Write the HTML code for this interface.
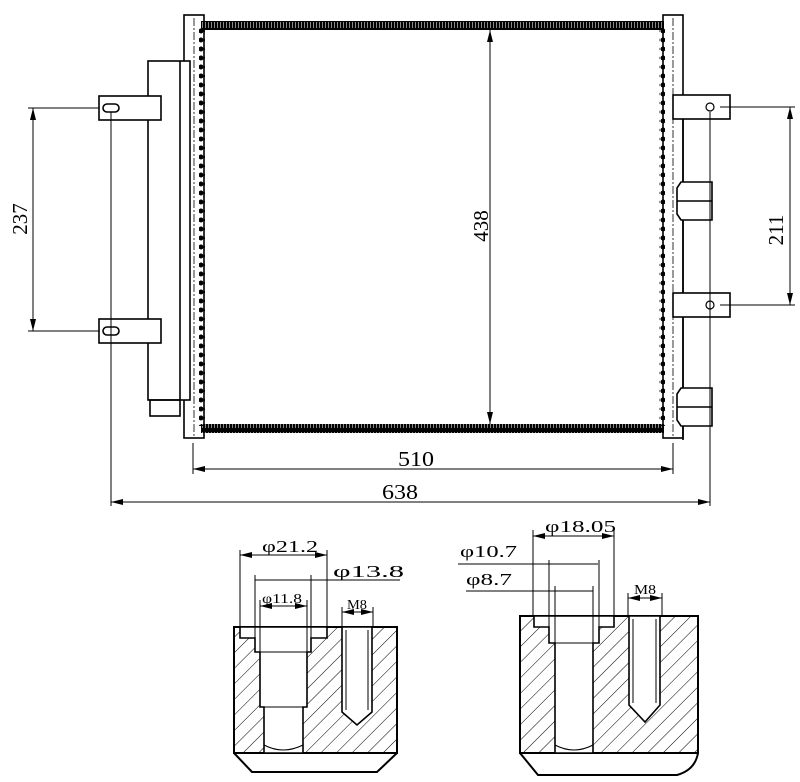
<!DOCTYPE html>
<html><head><style>body{margin:0;background:#fff}svg{display:block}text{font-family:"Liberation Serif",serif;fill:#000}</style></head><body>
<svg width="800" height="782" viewBox="0 0 800 782" xmlns="http://www.w3.org/2000/svg">
<defs>
<marker id="a" viewBox="0 0 12 6" refX="12" refY="3" markerWidth="12" markerHeight="6" orient="auto-start-reverse" markerUnits="userSpaceOnUse"><path d="M0,0L12,3L0,6z" fill="#000"/></marker>
<pattern id="h" width="11" height="11" patternUnits="userSpaceOnUse" patternTransform="rotate(45)"><line x1="0" y1="0" x2="0" y2="11" stroke="#000" stroke-width="1"/></pattern>
<pattern id="fin" width="3" height="10" patternUnits="userSpaceOnUse"><rect width="3" height="10" fill="#000"/><rect x="1" y="2" width="1" height="6" fill="#888"/></pattern>
<pattern id="dots" width="6" height="9" patternUnits="userSpaceOnUse"><circle cx="3" cy="4" r="2.5" fill="#000"/></pattern>
</defs>
<g fill="none" stroke="#000" stroke-width="1.6">
<rect x="201" y="21" width="463" height="9" fill="url(#fin)" stroke="none"/>
<rect x="201" y="424" width="463" height="9" fill="url(#fin)" stroke="none"/>
<rect x="199" y="26" width="6" height="400" fill="url(#dots)" stroke="none"/>
<rect x="659" y="26" width="6" height="400" fill="url(#dots)" stroke="none"/>
<rect x="184" y="15" width="20" height="423"/>
<line x1="194" y1="18" x2="194" y2="436" stroke-width="0.8" stroke-dasharray="8,2,2,2"/>
<rect x="663" y="15" width="20" height="423"/>
<line x1="673" y1="18" x2="673" y2="436" stroke-width="0.8" stroke-dasharray="8,2,2,2"/>
<rect x="148" y="61" width="42" height="339" fill="#fff"/>
<line x1="180" y1="61" x2="180" y2="400"/>
<rect x="150" y="400" width="30" height="16"/>
<rect x="99" y="96" width="62" height="24" fill="#fff"/>
<rect x="99" y="319" width="62" height="24" fill="#fff"/>
<rect x="103" y="104" width="16" height="8" rx="4"/>
<rect x="103" y="327" width="16" height="8" rx="4"/>
<line x1="683" y1="95" x2="683" y2="440"/>
<rect x="673" y="95" width="57" height="24" fill="#fff"/>
<rect x="673" y="293" width="57" height="24" fill="#fff"/>
<circle cx="710" cy="107" r="4" stroke-width="1.2"/><circle cx="710" cy="305" r="4" stroke-width="1.2"/>
<path d="M681,182H712V220H681L677,214V188Z" fill="#fff"/><line x1="677" y1="201" x2="712" y2="201"/>
<path d="M681,388H712V426H681L677,420V394Z" fill="#fff"/><line x1="677" y1="407" x2="712" y2="407"/>
</g>
<g stroke="#000" stroke-width="1" fill="none">
<line x1="28" y1="108" x2="99" y2="108"/><line x1="28" y1="331" x2="99" y2="331"/>
<line x1="33" y1="108" x2="33" y2="331" marker-start="url(#a)" marker-end="url(#a)"/>
<line x1="720" y1="107" x2="795" y2="107"/><line x1="720" y1="305" x2="795" y2="305"/>
<line x1="790" y1="107" x2="790" y2="305" marker-start="url(#a)" marker-end="url(#a)"/>
<line x1="111" y1="112" x2="111" y2="506"/><line x1="710" y1="112" x2="710" y2="506"/>
<line x1="193" y1="443" x2="193" y2="474"/><line x1="673" y1="443" x2="673" y2="474"/>
<line x1="193" y1="469" x2="673" y2="469" marker-start="url(#a)" marker-end="url(#a)"/>
<line x1="111" y1="502" x2="710" y2="502" marker-start="url(#a)" marker-end="url(#a)"/>
<line x1="490" y1="30" x2="490" y2="424" marker-start="url(#a)" marker-end="url(#a)"/>
</g>
<text x="398" y="466" font-size="21" textLength="36" lengthAdjust="spacingAndGlyphs">510</text>
<text x="382" y="499" font-size="21" textLength="36" lengthAdjust="spacingAndGlyphs">638</text>
<text transform="translate(488,226) rotate(-90)" font-size="21" text-anchor="middle">438</text>
<text transform="translate(27,219) rotate(-90)" font-size="21" text-anchor="middle">237</text>
<text transform="translate(783,230) rotate(-90)" font-size="21" text-anchor="middle">211</text>

<g stroke="#000" stroke-width="2" fill="none">
<rect x="234" y="627" width="163" height="126" fill="url(#h)"/>
<path d="M234,753L252,772H377L397,753"/>
<path d="M240,627V638H255V652H260V707H264V753H303V707H307V652H311V638H327V627Z" fill="#fff" stroke-width="1.6"/>
<line x1="260" y1="652" x2="307" y2="652" stroke-width="1"/><line x1="260" y1="707" x2="307" y2="707" stroke-width="1"/>
<path d="M264,745Q283,755 303,745" stroke-width="1"/>
<path d="M342,627V712L357,725L372,712V627Z" fill="#fff" stroke-width="1.6"/>
<line x1="346" y1="630" x2="346" y2="710" stroke-width="1"/><line x1="368" y1="630" x2="368" y2="710" stroke-width="1"/>
</g>
<g stroke="#000" stroke-width="1">
<line x1="240" y1="550" x2="240" y2="627"/><line x1="327" y1="550" x2="327" y2="627"/>
<line x1="240" y1="555" x2="327" y2="555" marker-start="url(#a)" marker-end="url(#a)"/>
<line x1="255" y1="575" x2="255" y2="640"/><line x1="311" y1="575" x2="311" y2="640"/>
<line x1="255" y1="580" x2="400" y2="580"/>
<line x1="260" y1="600" x2="260" y2="652"/><line x1="307" y1="600" x2="307" y2="652"/>
<line x1="260" y1="606" x2="307" y2="606" marker-start="url(#a)" marker-end="url(#a)"/>
<line x1="342" y1="607" x2="342" y2="627"/><line x1="373" y1="607" x2="373" y2="627"/>
<line x1="342" y1="612" x2="373" y2="612" marker-start="url(#a)" marker-end="url(#a)"/>
</g>
<text x="262" y="552" font-size="17" textLength="56" lengthAdjust="spacingAndGlyphs">φ21.2</text>
<text x="333" y="577" font-size="17" textLength="71" lengthAdjust="spacingAndGlyphs">φ13.8</text>
<text x="262" y="603" font-size="14" textLength="40" lengthAdjust="spacingAndGlyphs">φ11.8</text>
<text x="347" y="609" font-size="14" textLength="20" lengthAdjust="spacingAndGlyphs">M8</text>

<g stroke="#000" stroke-width="2" fill="none">
<rect x="520" y="616" width="178" height="137" fill="url(#h)"/>
<path d="M520,753L538,775H677Q695,770 698,753"/>
<path d="M534,616V627H549V643H555V753H593V643H599V627H614V616Z" fill="#fff" stroke-width="1.6"/>
<line x1="555" y1="643" x2="593" y2="643" stroke-width="1"/>
<path d="M555,745Q574,755 593,745" stroke-width="1"/>
<path d="M629,616V705L645,722L660,705V616Z" fill="#fff" stroke-width="1.6"/>
<line x1="633" y1="619" x2="633" y2="703" stroke-width="1"/><line x1="656" y1="619" x2="656" y2="703" stroke-width="1"/>
</g>
<g stroke="#000" stroke-width="1">
<line x1="533" y1="530" x2="533" y2="616"/><line x1="614" y1="530" x2="614" y2="616"/>
<line x1="533" y1="536" x2="614" y2="536" marker-start="url(#a)" marker-end="url(#a)"/>
<line x1="549" y1="560" x2="549" y2="630"/><line x1="599" y1="560" x2="599" y2="630"/>
<line x1="458" y1="564" x2="598" y2="564"/>
<line x1="555" y1="586" x2="555" y2="643"/><line x1="593" y1="586" x2="593" y2="643"/>
<line x1="466" y1="591" x2="593" y2="591"/>
<line x1="628" y1="593" x2="628" y2="616"/><line x1="662" y1="593" x2="662" y2="616"/>
<line x1="628" y1="598" x2="662" y2="598" marker-start="url(#a)" marker-end="url(#a)"/>
</g>
<text x="545" y="532" font-size="17" textLength="71" lengthAdjust="spacingAndGlyphs">φ18.05</text>
<text x="460" y="557" font-size="17" textLength="57" lengthAdjust="spacingAndGlyphs">φ10.7</text>
<text x="466" y="585" font-size="17" textLength="46" lengthAdjust="spacingAndGlyphs">φ8.7</text>
<text x="634" y="594" font-size="14" textLength="22" lengthAdjust="spacingAndGlyphs">M8</text>
</svg>
</body></html>
